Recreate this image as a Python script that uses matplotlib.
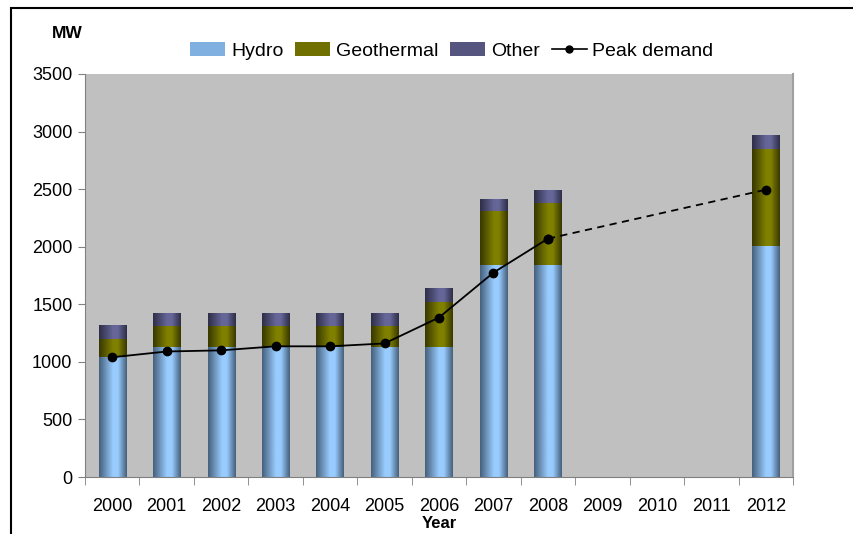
import matplotlib.pyplot as plt
import numpy as np
from matplotlib.colors import LinearSegmentedColormap
from matplotlib.patches import Patch, Rectangle
from matplotlib.lines import Line2D

plt.rcParams['font.family'] = ['Liberation Sans', 'DejaVu Sans']

years = ['2000', '2001', '2002', '2003', '2004', '2005', '2006',
         '2007', '2008', '2009', '2010', '2011', '2012']
hydro = [1045, 1130, 1130, 1130, 1130, 1130, 1130, 1845, 1845, 0, 0, 0, 2010]
geothermal = [150, 185, 185, 185, 185, 185, 390, 465, 535, 0, 0, 0, 835]
other = [115, 110, 110, 110, 110, 110, 115, 100, 110, 0, 0, 0, 120]
peak_years = [0, 1, 2, 3, 4, 5, 6, 7, 8, 12]
peak = [1040, 1090, 1100, 1135, 1135, 1160, 1385, 1775, 2070, 2495]

cmaps = [
    LinearSegmentedColormap.from_list('h', [(0, '#46607c'), (0.5, '#99ccff'), (0.68, '#99ccff'), (1, '#46607c')]),
    LinearSegmentedColormap.from_list('g', [(0, '#383800'), (0.5, '#808000'), (0.68, '#808000'), (1, '#383800')]),
    LinearSegmentedColormap.from_list('o', [(0, '#2e2e48'), (0.5, '#666699'), (0.68, '#666699'), (1, '#2e2e48')]),
]
grad = np.linspace(0, 1, 64).reshape(1, -1)

fig = plt.figure(figsize=(8.54, 5.34), dpi=100)
ax = fig.add_axes([85 / 854, 57 / 534, 708 / 854, 403 / 534])
ax.set_facecolor('#c0c0c0')

x = np.arange(len(years))
w = 0.5
bottom = np.zeros(len(years))
for vals, cm in zip([hydro, geothermal, other], cmaps):
    for i, v in enumerate(vals):
        if v <= 0:
            continue
        ax.imshow(grad, cmap=cm, aspect='auto', extent=(x[i] - w / 2, x[i] + w / 2, bottom[i], bottom[i] + v),
                  zorder=2, interpolation='bicubic')
    bottom += np.array(vals)

px = np.array(peak_years)
py = np.array(peak)
ax.plot(px[:9], py[:9], color='black', lw=1.3, marker='o', ms=6, zorder=4)
ax.plot(px[8:], py[8:], color='black', lw=1.3, ls=(0, (4, 3)), marker='o', ms=6, zorder=4)

ax.set_xlim(-0.5, len(years) - 0.5)
ax.set_ylim(0, 3500)
ax.set_yticks(np.arange(0, 3501, 500))
ax.set_xticks(x)
ax.set_xticklabels(years)
ax.set_xticks(np.arange(-0.5, len(years), 1), minor=True)
ax.tick_params(axis='x', which='major', length=0, pad=15, labelsize=13)
ax.tick_params(axis='x', which='minor', length=6, color='#808080')
ax.tick_params(axis='y', length=5, color='#808080', labelsize=13, pad=4)
for s in ['left', 'bottom']:
    ax.spines[s].set_color('#808080')
ax.spines['top'].set_visible(False)
ax.spines['right'].set_color('#a0a0a0')
ax.spines['right'].set_linewidth(1.5)

fig.text(439 / 854, 1 - 524 / 534, 'Year', fontsize=12, fontweight='bold', ha='center', va='center')
fig.text(52 / 854, 1 - 34 / 534, 'MW', fontsize=12.5, fontweight='bold', ha='left', va='center')

handles = [
    Patch(facecolor='#80b0e0', edgecolor='none', label='Hydro'),
    Patch(facecolor='#707000', edgecolor='none', label='Geothermal'),
    Patch(facecolor='#55557f', edgecolor='none', label='Other'),
    Line2D([], [], color='black', marker='o', ms=5, lw=1.2, label='Peak demand'),
]
fig.legend(handles=handles, loc='center', bbox_to_anchor=(452 / 854, 1 - 51 / 534), ncol=4, frameon=False,
           fontsize=14, handlelength=1.8, handletextpad=0.3, columnspacing=0.6)

fig.patches.append(Rectangle((11 / 854, -0.1), 1.2, 1.1 - 8 / 534, transform=fig.transFigure,
                             fill=False, edgecolor='black', lw=1.5))

fig.savefig('out.png', dpi=100)
